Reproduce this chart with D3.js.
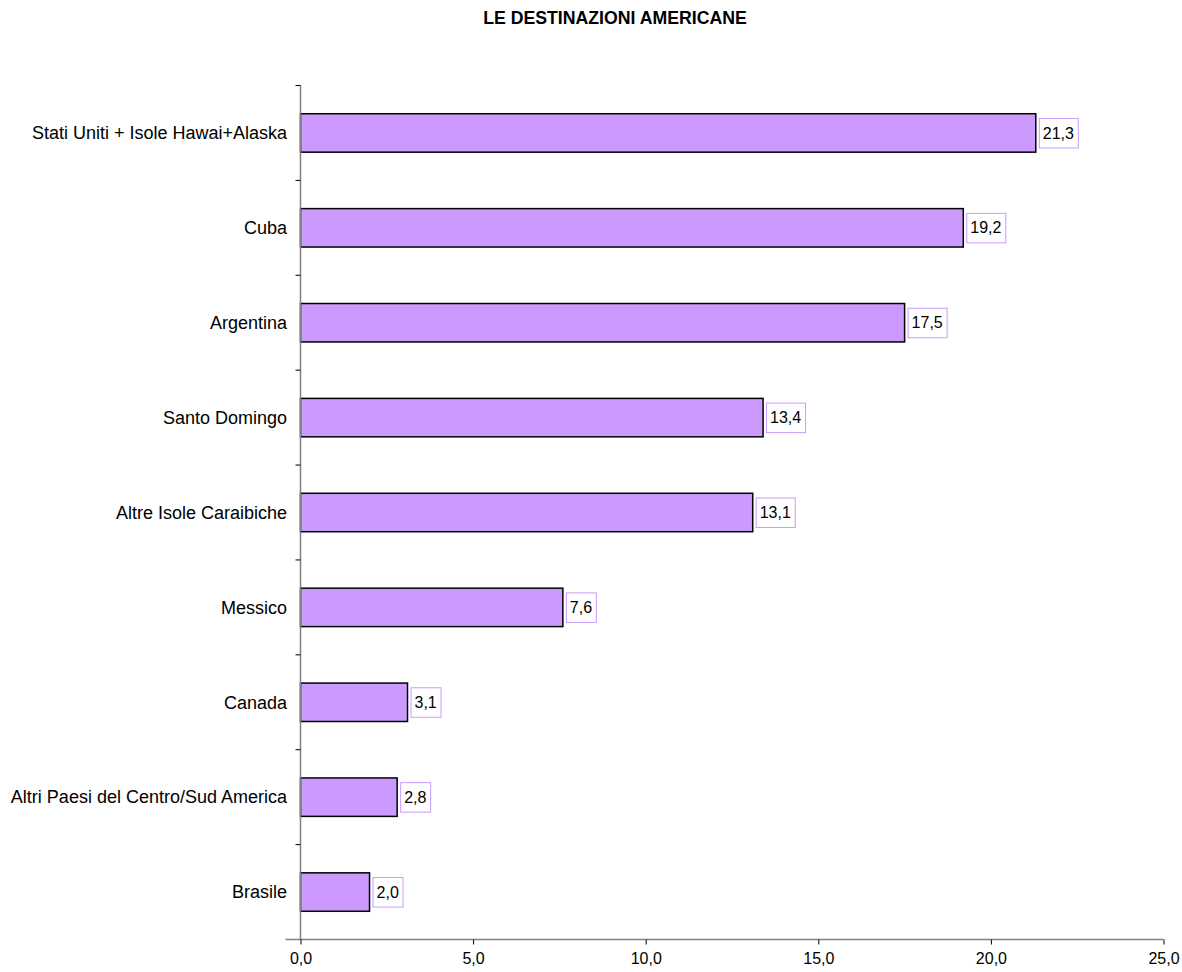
<!DOCTYPE html>
<html>
<head>
<meta charset="utf-8">
<script src="https://cdn.jsdelivr.net/npm/d3@7"></script>
<style>
  html, body { margin: 0; padding: 0; background: #fff; }
  svg { display: block; font-family: "Liberation Sans", Arial, sans-serif; }
</style>
</head>
<body>
<svg id="chart" width="1182" height="972"></svg>
<script>
const title = "LE DESTINAZIONI AMERICANE";
const categories = [
  "Stati Uniti + Isole Hawai+Alaska",
  "Cuba",
  "Argentina",
  "Santo Domingo",
  "Altre Isole Caraibiche",
  "Messico",
  "Canada",
  "Altri Paesi del Centro/Sud America",
  "Brasile"
];
const values = [21.3, 19.2, 17.5, 13.4, 13.1, 7.6, 3.1, 2.8, 2.0];
const xTicks = [0, 5, 10, 15, 20, 25];

const fmt = v => v.toFixed(1).replace(".", ",");

const svg = d3.select("#chart");
const plotLeft = 300.5, plotRight = 1163.5, plotTop = 85.5, plotBottom = 939.5;

const x = d3.scaleLinear().domain([0, 25]).range([plotLeft, plotRight]);
const y = d3.scaleBand().domain(categories).range([plotTop, plotBottom]).paddingInner(0.595).paddingOuter(0.2975);

svg.append("text")
  .attr("x", 615).attr("y", 24)
  .attr("text-anchor", "middle")
  .attr("font-size", 17.7).attr("font-weight", "bold")
  .text(title);

// bars
svg.append("g").selectAll("rect")
  .data(values)
  .join("rect")
  .attr("x", x(0))
  .attr("y", (d, i) => y(categories[i]))
  .attr("width", d => x(d) - x(0))
  .attr("height", y.bandwidth())
  .attr("fill", "#cc99ff")
  .attr("stroke", "#000")
  .attr("stroke-width", 1.5);

// value labels with boxes
const lab = svg.append("g").selectAll("g")
  .data(values)
  .join("g")
  .attr("transform", (d, i) => `translate(${x(d) + 3},${y(categories[i]) + y.bandwidth() / 2})`);
lab.append("text")
  .attr("x", 4).attr("dy", "0.35em")
  .attr("font-size", 16)
  .text(d => fmt(d))
  .each(function () {
    const bb = this.getBBox();
    d3.select(this.parentNode).insert("rect", "text")
      .attr("x", 0.5).attr("y", -14.5)
      .attr("width", Math.round(bb.width) + 8).attr("height", 29.5)
      .attr("fill", "#fff").attr("stroke", "#cc99ff").attr("stroke-width", 1);
  });

// y axis
const yAxisG = svg.append("g");
yAxisG.append("line").attr("x1", plotLeft).attr("x2", plotLeft).attr("y1", plotTop).attr("y2", plotBottom)
  .attr("stroke", "#808080").attr("stroke-width", 1.5);
const step = (plotBottom - plotTop) / categories.length;
yAxisG.selectAll("line.t")
  .data(d3.range(categories.length))
  .join("line").attr("class", "t")
  .attr("x1", plotLeft - 5).attr("x2", plotLeft)
  .attr("y1", i => plotTop + i * step).attr("y2", i => plotTop + i * step)
  .attr("stroke", "#000").attr("stroke-width", 1);
yAxisG.selectAll("text")
  .data(categories)
  .join("text")
  .attr("x", 287)
  .attr("y", d => y(d) + y.bandwidth() / 2)
  .attr("dy", "0.35em")
  .attr("text-anchor", "end")
  .attr("font-size", 18)
  .text(d => d);

// x axis
const xAxis = d3.axisBottom(x).tickValues(xTicks).tickFormat(fmt).tickSize(5).tickSizeOuter(0);
const xg = svg.append("g").attr("transform", `translate(0,${plotBottom})`).call(xAxis);
xg.select(".domain").attr("stroke", "#808080").attr("stroke-width", 1.5).attr("d", `M${plotLeft - 15},0H${plotRight}`);
xg.selectAll(".tick line").attr("stroke", "#000");
xg.selectAll(".tick text").attr("font-size", 16).attr("font-family", "Liberation Sans, Arial, sans-serif").attr("fill", "#000").attr("y", 13);
</script>
</body>
</html>
